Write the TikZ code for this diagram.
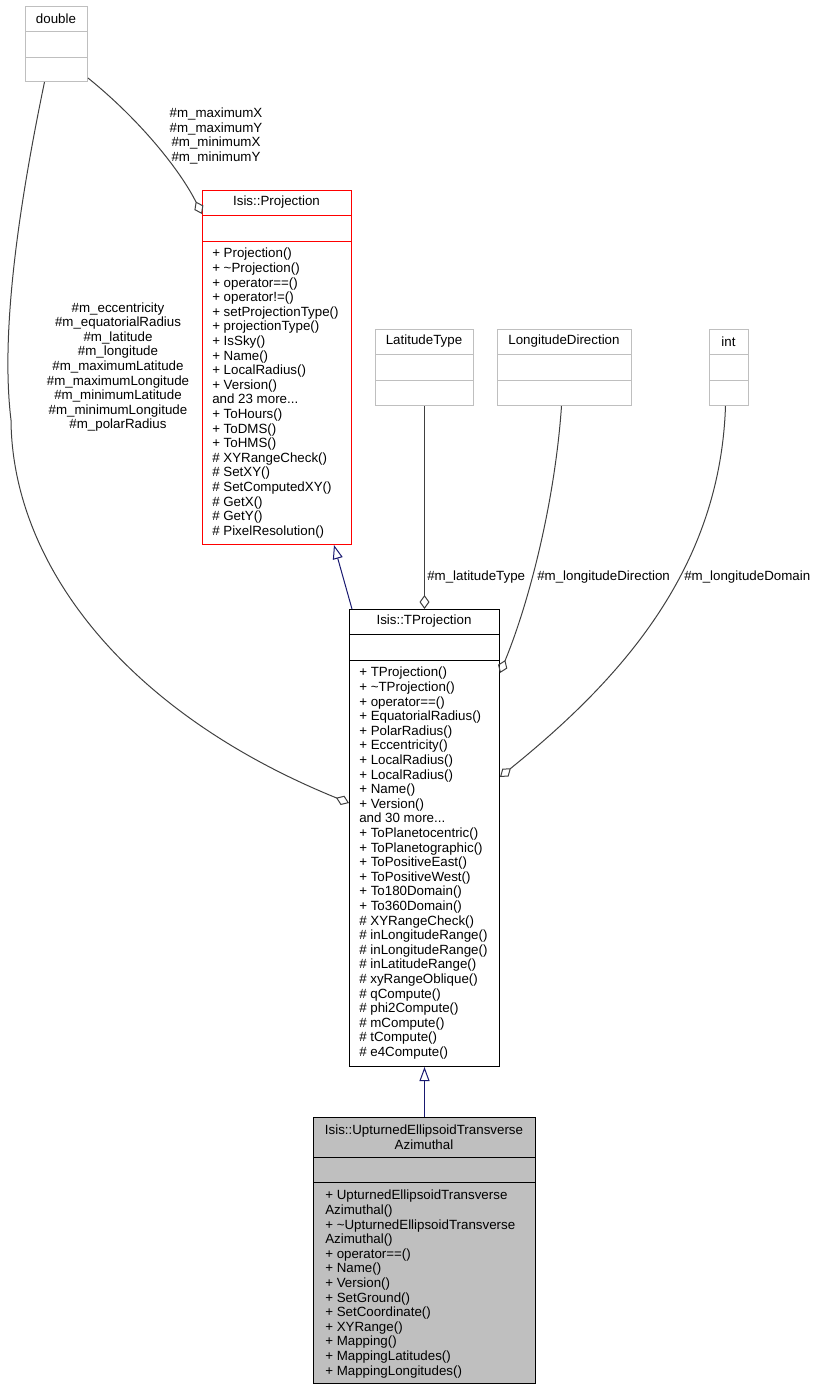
\documentclass[tikz,border=0pt]{standalone}
\usepackage{fontspec}
\setmainfont{Liberation Sans}
\usepackage{tikz}
\usetikzlibrary{arrows.meta}
\definecolor{boxgray}{RGB}{191,191,191}
\definecolor{edgegray}{RGB}{64,64,64}
\definecolor{navy}{RGB}{25,25,112}
\tikzset {>=Stealth}
\tikzset{
  cls/.style={draw, inner sep=0pt, anchor=north west, line width=0.75pt},
  ttl/.style={inner sep=0pt, align=center, font=\fontsize{10}{10.95}\selectfont},
  mbr/.style={inner sep=0pt, anchor=north west, align=left, font=\fontsize{10}{10.95}\selectfont},
  lbl/.style={inner sep=0pt, align=center, font=\fontsize{10}{10.95}\selectfont},
  assoc/.style={draw=edgegray, line width=0.75pt, -{Diamond[open,length=10.5pt,width=7.5pt]}},
  inh/.style={draw=navy, line width=0.75pt, -{Triangle[open,length=10.5pt,width=7.5pt]}}
}

\begin{document}
\begin{tikzpicture}[x=0.75pt,y=-0.75pt]
\useasboundingbox (0,0) rectangle (818,1389);

% classes
\node[cls, draw=boxgray, minimum width=46.5pt, minimum height=56.25pt] (dbl) at (25,6) {};
\node[cls, draw=red, minimum width=111.75pt, minimum height=265.5pt] (proj) at (202,190) {};
\node[cls, draw=boxgray, minimum width=73.5pt, minimum height=57pt] (lat) at (375,329) {};
\node[cls, draw=boxgray, minimum width=100.5pt, minimum height=57pt] (lon) at (497,329) {};
\node[cls, draw=boxgray, minimum width=29.25pt, minimum height=57pt] (int) at (709,329) {};
\node[cls, draw=black, minimum width=112.5pt, minimum height=342.75pt] (tproj) at (349,609) {};
\node[cls, draw=black, fill=boxgray, minimum width=166.5pt, minimum height=199.5pt] (upt) at (313,1117) {};

\foreach \n/\c/\a/\b in {dbl/boxgray/25/51, lat/boxgray/25/51, lon/boxgray/25/51, int/boxgray/25/51,
    proj/red/25/51, tproj/black/25/51, upt/black/40/65}{
  \draw[\c, line width=0.75pt] ([shift={(0,\a)}]\n.north west) -- ([shift={(0,\a)}]\n.north east);
  \draw[\c, line width=0.75pt] ([shift={(0,\b)}]\n.north west) -- ([shift={(0,\b)}]\n.north east);
}

% names
\node[ttl] (dblname) at (56,18.5) {double};
\node[ttl] (projname) at (276.5,202.5) {Isis::Projection};
\node[ttl] (latname) at (424,341.5) {LatitudeType};
\node[ttl] (lonname) at (564,341.5) {LongitudeDirection};
\node[ttl] (intname) at (728.5,341.5) {int};
\node[ttl] (tprojname) at (424,621.5) {Isis::TProjection};
\node[ttl] (uptname) at (424,1137) {Isis::UpturnedEllipsoidTransverse\\Azimuthal};

% members
\node[mbr] (projops) at (212,248) {+ Projection()\\+ \textasciitilde{}Projection()\\+ operator==()\\+ operator!=()\\+ setProjectionType()\\+ projectionType()\\+ IsSky()\\+ Name()\\+ LocalRadius()\\+ Version()\\and 23 more...\\+ ToHours()\\+ ToDMS()\\+ ToHMS()\\\# XYRangeCheck()\\\# SetXY()\\\# SetComputedXY()\\\# GetX()\\\# GetY()\\\# PixelResolution()};
\node[mbr] (tprojops) at (359,667) {+ TProjection()\\+ \textasciitilde{}TProjection()\\+ operator==()\\+ EquatorialRadius()\\+ PolarRadius()\\+ Eccentricity()\\+ LocalRadius()\\+ LocalRadius()\\+ Name()\\+ Version()\\and 30 more...\\+ ToPlanetocentric()\\+ ToPlanetographic()\\+ ToPositiveEast()\\+ ToPositiveWest()\\+ To180Domain()\\+ To360Domain()\\\# XYRangeCheck()\\\# inLongitudeRange()\\\# inLongitudeRange()\\\# inLatitudeRange()\\\# xyRangeOblique()\\\# qCompute()\\\# phi2Compute()\\\# mCompute()\\\# tCompute()\\\# e4Compute()};
\node[mbr] (uptops) at (325,1190) {+ UpturnedEllipsoidTransverse\\Azimuthal()\\+ \textasciitilde{}UpturnedEllipsoidTransverse\\Azimuthal()\\+ operator==()\\+ Name()\\+ Version()\\+ SetGround()\\+ SetCoordinate()\\+ XYRange()\\+ Mapping()\\+ MappingLatitudes()\\+ MappingLongitudes()};

% connectors
\draw[assoc] ([shift={(0,-4)}]dbl.south east) .. controls (140,120) and (180,170) .. ([shift={(0,24)}]proj.north west);
\draw[assoc] ([shift={(-12,0)}]dbl.south) .. controls (20,200) and (0,330) .. (11,420)
  .. controls (12,560) and (120,710) .. ([shift={(0,194)}]tproj.north west);
\draw[assoc] (lat.south) -- (tproj.north);
\draw[assoc] ([shift={(-3,0)}]lon.south) .. controls (555,500) and (530,600) .. ([shift={(0,64)}]tproj.north east);
\draw[assoc] ([shift={(-3.5,0)}]int.south) .. controls (720,570) and (620,680) .. ([shift={(0,168)}]tproj.north east);
\draw[inh] ([shift={(3,0)}]tproj.north west) -- ([shift={(-18,0)}]proj.south east);
\draw[inh] (upt.north) -- (tproj.south);

% labels
\node[lbl] (maxlbl) at (216,136) {\#m\_maximumX\\\#m\_maximumY\\\#m\_minimumX\\\#m\_minimumY};
\node[lbl] (geolbl) at (118,367) {\#m\_eccentricity\\\#m\_equatorialRadius\\\#m\_latitude\\\#m\_longitude\\\#m\_maximumLatitude\\\#m\_maximumLongitude\\\#m\_minimumLatitude\\\#m\_minimumLongitude\\\#m\_polarRadius};
\node[lbl, anchor=west] (latlbl) at (427,577) {\#m\_latitudeType};
\node[lbl, anchor=west] (lonlbl) at (537,577) {\#m\_longitudeDirection};
\node[lbl, anchor=west] (domlbl) at (684,577) {\#m\_longitudeDomain};
\end{tikzpicture}
\end{document}
